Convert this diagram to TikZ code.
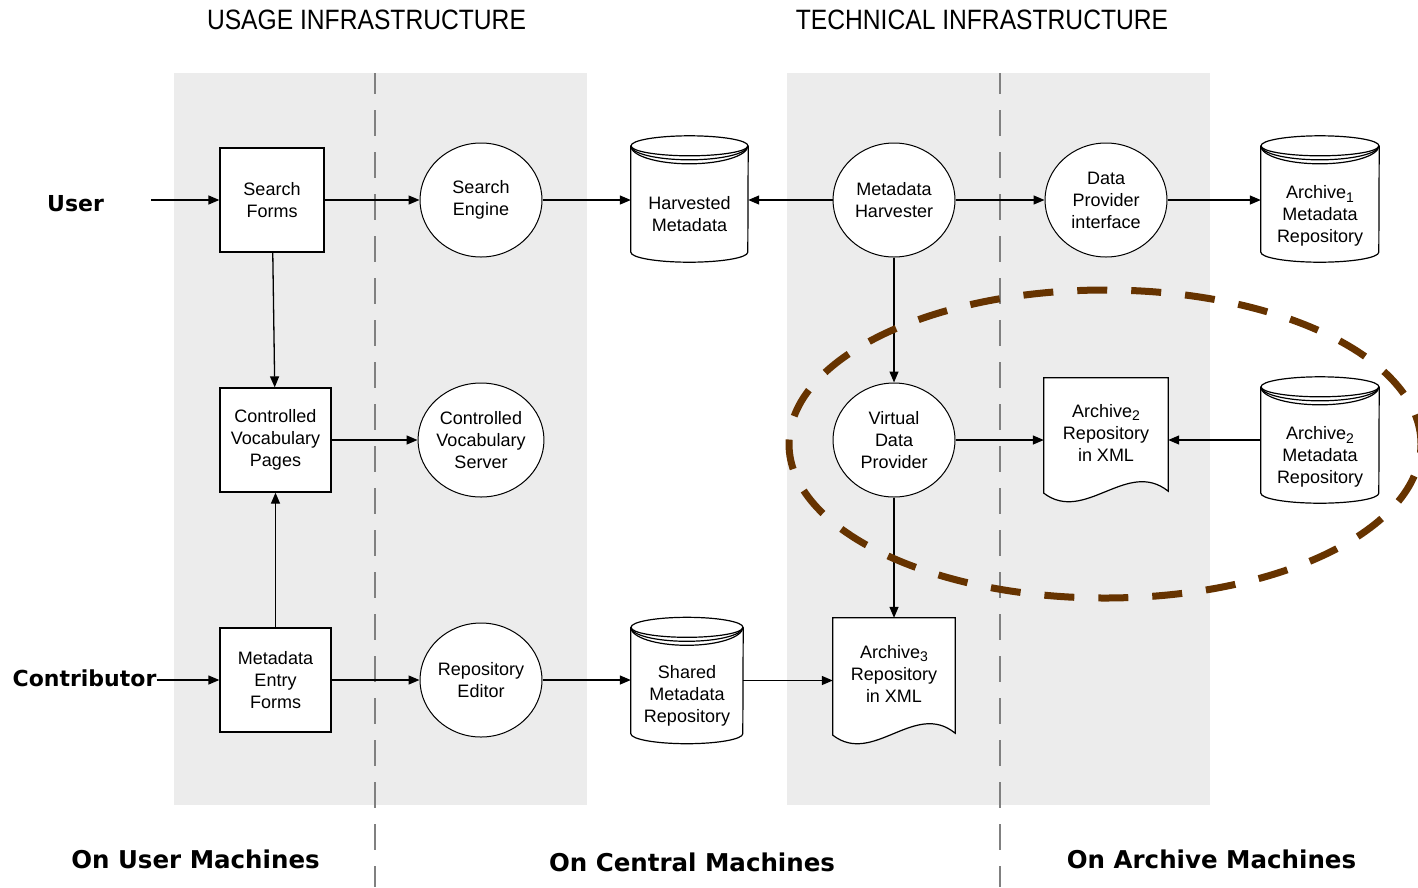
\documentclass[tikz,border=0pt]{standalone}
\usepackage{fontspec}
\setmainfont{Liberation Sans}
\newfontfamily\titlefont{Liberation Sans}[FakeStretch=0.88]
\newfontfamily\lblfont{DejaVu Sans}
\usetikzlibrary{arrows.meta,shapes.geometric,calc}
\definecolor{panel}{RGB}{236,236,236}
\definecolor{ringbrown}{RGB}{102,51,0}
\definecolor{sepgray}{RGB}{128,128,128}
\newcommand\subidx[1]{\raisebox{-0.4ex}{\fontsize{14}{14}\selectfont #1}}
\tikzset{
  box/.style={rectangle, draw, line width=1.3pt, fill=white, minimum height=104pt, inner sep=0pt, align=center},
  proc/.style={ellipse, draw, line width=1pt, fill=white, minimum width=122pt, minimum height=114pt, inner sep=0pt, align=center},
  store/.style={rectangle, draw=none, minimum height=126pt, inner sep=0pt},
  docbox/.style={rectangle, draw=none, inner sep=0pt},
  txt/.style={align=center, inner sep=0pt},
  shapeline/.style={line width=1.2pt, black},
  flow/.style={line width=1.3pt, -{Triangle[length=11pt,width=9pt]}},
  lbl/.style={font=\lblfont\bfseries\fontsize{22}{26}\selectfont, inner sep=0pt},
  biglbl/.style={font=\lblfont\bfseries\fontsize{24.5}{28}\selectfont, inner sep=0pt},
  ttl/.style={font=\titlefont\fontsize{28}{32}\selectfont, inner sep=0pt},
  sepline/.style={sepgray, line width=1.6pt, dash pattern=on 26pt off 16pt, dash phase=5pt},
  ring/.style={ringbrown, line width=7pt, dash pattern=on 30pt off 24pt}
}
\newcommand\drawcyl[2]{%
  \fill[white] ([yshift=-10pt]#1.north west) -- ([yshift=10pt]#1.south west)
     arc[start angle=180, end angle=360, x radius=#2, y radius=10pt]
     -- ([yshift=-10pt]#1.north east)
     arc[start angle=0, end angle=180, x radius=#2, y radius=10pt] -- cycle;
  \draw[shapeline] ([yshift=-10pt]#1.north west) -- ([yshift=10pt]#1.south west)
     arc[start angle=180, end angle=360, x radius=#2, y radius=10pt]
     -- ([yshift=-10pt]#1.north east);
  \draw[shapeline] ([yshift=-10pt]#1.north) ellipse [x radius=#2, y radius=10pt];
  \draw[shapeline] ([yshift=-10pt]#1.north west) arc[start angle=180, end angle=360, x radius=#2, y radius=14pt];
  \draw[shapeline] ([yshift=-10pt]#1.north west) arc[start angle=180, end angle=360, x radius=#2, y radius=18pt];
}
\newcommand\drawdoc[1]{%
  \draw[shapeline, fill=white] (#1.south west) -- (#1.north west) -- (#1.north east)
     -- ([yshift=2pt]#1.south east)
     .. controls ($(#1.south west)!0.67!(#1.south east)+(0,35)$) and ($(#1.south west)!0.33!(#1.south east)+(0,-31)$)
     .. (#1.south west) -- cycle;
}
\begin{document}
\begin{tikzpicture}[x=1pt, y=1pt, font=\fontsize{18}{22}\selectfont]
\path[use as bounding box, fill=white] (0,0) rectangle (1418,-887);
\clip (0,0) rectangle (1418,-887);

% panels
\fill[panel] (174,-73) rectangle (587,-805);
\fill[panel] (787,-73) rectangle (1210,-805);
\draw[sepline] (375,-73) -- (375,-887);
\draw[sepline] (1000,-73) -- (1000,-887);

% titles and labels
\node[ttl] (t1) at (366.5,-20) {USAGE INFRASTRUCTURE};
\node[ttl] (t2) at (982,-20) {TECHNICAL INFRASTRUCTURE};
\node[lbl] (user) at (75.5,-204) {User};
\node[lbl] (contrib) at (84.5,-678) {Contributor};
\node[biglbl] (b1) at (195.5,-859) {On User Machines};
\node[biglbl] (b2) at (692,-862) {On Central Machines};
\node[biglbl] (b3) at (1211.5,-859) {On Archive Machines};

% stores (cylinders)
\node[store, minimum width=117pt] (hm) at (689.5,-199) {};
\node[store, minimum width=112pt] (sm) at (687,-680.5) {};
\node[store, minimum width=118pt] (a1m) at (1320,-199) {};
\node[store, minimum width=118pt] (a2m) at (1320,-440) {};
\drawcyl{hm}{58.5pt}
\drawcyl{sm}{56pt}
\drawcyl{a1m}{59pt}
\drawcyl{a2m}{59pt}
\node[txt] (hm-t) at ([yshift=-15pt]hm.center) {Harvested\\Metadata};
\node[txt] (sm-t) at ([yshift=-15pt]sm.center) {Shared\\Metadata\\Repository};
\node[txt] (a1m-t) at ([yshift=-17pt]a1m.center) {Archive\subidx{1}\\Metadata\\Repository};
\node[txt] (a2m-t) at ([yshift=-17pt]a2m.center) {Archive\subidx{2}\\Metadata\\Repository};

% documents
\node[docbox, minimum width=122pt, minimum height=117pt] (a3x) at (894,-676.5) {};
\node[docbox, minimum width=124pt, minimum height=115pt] (a2x) at (1106,-435.5) {};
\drawdoc{a3x}
\drawdoc{a2x}
\node[txt] (a3x-t) at ([yshift=3pt]a3x.center) {Archive\subidx{3}\\Repository\\in XML};
\node[txt] (a2x-t) at ([yshift=3pt]a2x.center) {Archive\subidx{2}\\Repository\\in XML};

% boxes
\node[box, minimum width=104pt] (sf) at (272,-200) {Search\\Forms};
\node[box, minimum width=111pt] (cvp) at (275.5,-440) {Controlled\\Vocabulary\\Pages};
\node[box, minimum width=111pt] (mef) at (275.5,-680) {Metadata\\Entry\\Forms};

% processes
\node[proc] (se) at (481,-200) {Search\\Engine};
\node[proc] (cvs) at (481,-440) {Controlled\\Vocabulary\\Server};
\node[proc] (re) at (481,-680) {Repository\\Editor};
\node[proc] (mh) at (894,-200) {Metadata\\Harvester};
\node[proc] (vdp) at (894,-440) {Virtual\\Data\\Provider};
\node[proc] (dpi) at (1106,-200) {Data\\Provider\\interface};

% connectors
\coordinate (uin) at (151,-200);
\draw[flow] (uin) -- (sf);
\draw[flow] (sf) -- (se);
\draw[flow] (se.east) -- (se.east -| hm.west);
\draw[flow] (mh.west) -- (mh.west -| hm.east);
\draw[flow] (mh) -- (dpi);
\draw[flow] (dpi.east) -- (dpi.east -| a1m.west);
\draw[flow] (sf) -- (cvp);
\draw[flow] (cvp) -- (cvs);
\draw[flow] (mef) -- (cvp);
\draw[flow] (contrib.east |- mef.west) -- (mef.west);
\draw[flow] (mef) -- (re);
\draw[flow] (re.east) -- (re.east -| sm.west);
\draw[flow] (sm.east) -- (sm.east -| a3x.west);
\draw[flow] (mh) -- (vdp);
\draw[flow] (vdp.south) -- (a3x.north);
\draw[flow] (vdp.east) -- (vdp.east -| a2x.west);
\draw[flow] (a2m.west) -- (a2m.west -| a2x.east);

% highlighted group
\draw[ring] (1105,-444) ellipse [x radius=316pt, y radius=154pt];
\end{tikzpicture}
\end{document}
